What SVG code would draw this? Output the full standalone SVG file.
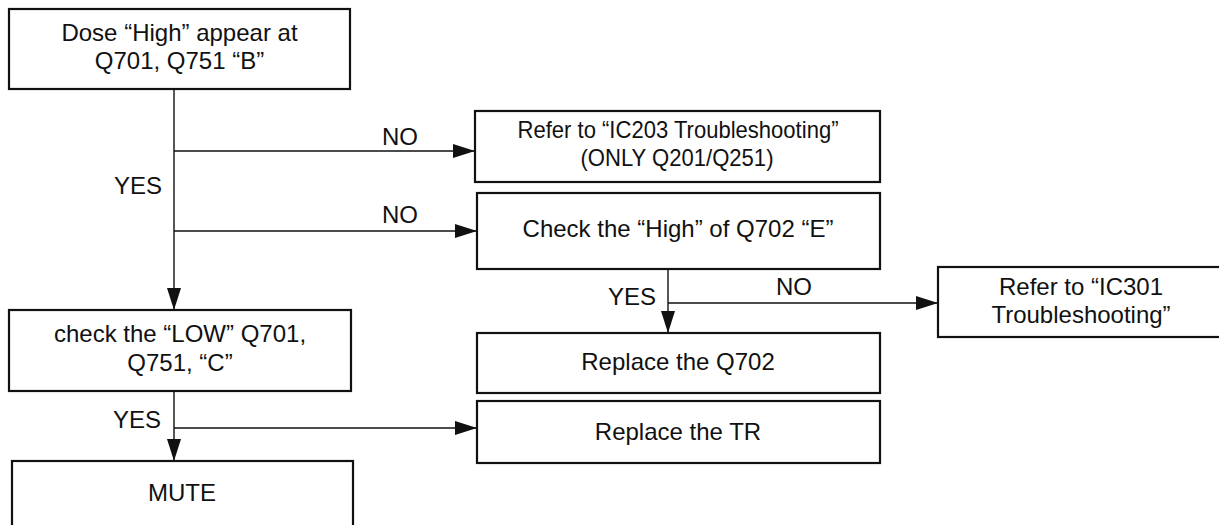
<svg xmlns="http://www.w3.org/2000/svg" width="1219" height="525" viewBox="0 0 1219 525">
<style>
.box{fill:#fff;stroke:#111;stroke-width:2.2}
.t{font-family:"Liberation Sans",Arial,sans-serif;font-size:24px;fill:#111;text-anchor:middle}
.lbl{font-family:"Liberation Sans",Arial,sans-serif;font-size:24px;fill:#111}
.c{fill:none;stroke:#111;stroke-width:1.4}
</style>
<defs>
<marker id="ah" markerUnits="userSpaceOnUse" markerWidth="22" markerHeight="14" refX="22" refY="7" orient="auto">
<path d="M0,0 L22,7 L0,14 z" fill="#111"/>
</marker>
</defs>
<rect width="1219" height="525" fill="#fff"/>
<g id="connectors">
<path class="c" d="M174,89 V310" marker-end="url(#ah)"/>
<path class="c" d="M174,151 H475" marker-end="url(#ah)"/>
<path class="c" d="M174,231 H477" marker-end="url(#ah)"/>
<path class="c" d="M668,269 V333" marker-end="url(#ah)"/>
<path class="c" d="M668,303 H938" marker-end="url(#ah)"/>
<path class="c" d="M174,391 V461" marker-end="url(#ah)"/>
<path class="c" d="M174,428 H477" marker-end="url(#ah)"/>
<text class="lbl" x="382" y="145">NO</text>
<text class="lbl" x="382" y="223">NO</text>
<text class="lbl" x="114" y="194">YES</text>
<text class="lbl" x="113" y="428">YES</text>
<text class="lbl" x="608" y="305">YES</text>
<text class="lbl" x="776" y="295">NO</text>
</g>
<g id="n1">
<rect class="box" x="9" y="9" width="341" height="80"/>
<text class="t" x="179.5" y="41">Dose “High” appear at</text>
<text class="t" x="179.5" y="69">Q701, Q751 “B”</text>
</g>
<g id="n2">
<rect class="box" x="475" y="111" width="405" height="71"/>
<text class="t" x="678" y="138" textLength="321" lengthAdjust="spacingAndGlyphs">Refer to “IC203 Troubleshooting”</text>
<text class="t" x="677" y="166" textLength="193" lengthAdjust="spacingAndGlyphs">(ONLY Q201/Q251)</text>
</g>
<g id="n3">
<rect class="box" x="477" y="193" width="403" height="76"/>
<text class="t" x="678" y="237">Check the “High” of Q702 “E”</text>
</g>
<g id="n4">
<rect class="box" x="938" y="267" width="286" height="70"/>
<text class="t" x="1081" y="295">Refer to “IC301</text>
<text class="t" x="1081" y="323">Troubleshooting”</text>
</g>
<g id="n5">
<rect class="box" x="477" y="333" width="403" height="60"/>
<text class="t" x="678" y="370">Replace the Q702</text>
</g>
<g id="n6">
<rect class="box" x="477" y="401" width="403" height="62"/>
<text class="t" x="678" y="440">Replace the TR</text>
</g>
<g id="n7">
<rect class="box" x="9" y="310" width="342" height="81"/>
<text class="t" x="180" y="342">check the “LOW” Q701,</text>
<text class="t" x="180" y="371">Q751, “C”</text>
</g>
<g id="n8">
<rect class="box" x="12" y="461" width="341" height="80"/>
<text class="t" x="182" y="501">MUTE</text>
</g>
</svg>
